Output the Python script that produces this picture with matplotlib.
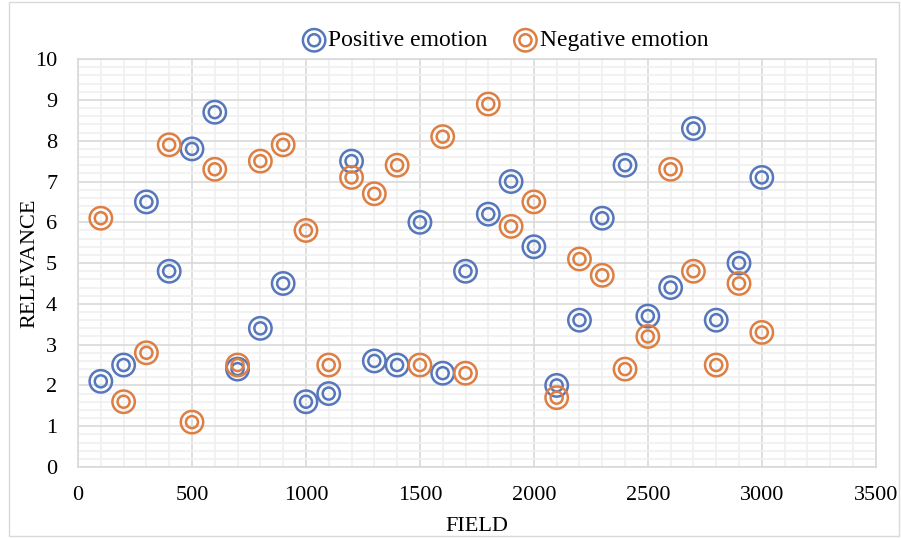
import numpy as np
import matplotlib.pyplot as plt
from matplotlib.ticker import MultipleLocator
from matplotlib.patches import Rectangle

plt.rcParams['font.family'] = ['Liberation Serif', 'DejaVu Serif']

field = [100, 200, 300, 400, 500, 600, 700, 800, 900, 1000,
         1100, 1200, 1300, 1400, 1500, 1600, 1700, 1800, 1900, 2000,
         2100, 2200, 2300, 2400, 2500, 2600, 2700, 2800, 2900, 3000]
positive = [2.1, 2.5, 6.5, 4.8, 7.8, 8.7, 2.4, 3.4, 4.5, 1.6,
            1.8, 7.5, 2.6, 2.5, 6.0, 2.3, 4.8, 6.2, 7.0, 5.4,
            2.0, 3.6, 6.1, 7.4, 3.7, 4.4, 8.3, 3.6, 5.0, 7.1]
negative = [6.1, 1.6, 2.8, 7.9, 1.1, 7.3, 2.5, 7.5, 7.9, 5.8,
            2.5, 7.1, 6.7, 7.4, 2.5, 8.1, 2.3, 8.9, 5.9, 6.5,
            1.7, 5.1, 4.7, 2.4, 3.2, 7.3, 4.8, 2.5, 4.5, 3.3]

blue = '#5677bb'
orange = '#dd7f43'

fig = plt.figure(figsize=(9.01, 5.38), dpi=100)
ax = fig.add_axes([0.0866, 0.132, 0.8854, 0.758])

# chart border
fig.patches.append(Rectangle((0.01, 0.004), 0.988, 0.992, transform=fig.transFigure,
                             fill=False, edgecolor='#d9d9d9', lw=1))

handles = []
for vals, col in [(positive, blue), (negative, orange)]:
    h1 = ax.scatter(field, vals, s=260, facecolors='none', edgecolors=col, linewidths=1.8, zorder=3)
    h2 = ax.scatter(field, vals, s=75, facecolors='none', edgecolors=col, linewidths=1.8, zorder=3)
    handles.append((h1, h2))

ax.set_xlim(0, 3500)
ax.set_ylim(0, 10)
ax.xaxis.set_major_locator(MultipleLocator(500))
ax.xaxis.set_minor_locator(MultipleLocator(100))
ax.yaxis.set_major_locator(MultipleLocator(1))
ax.yaxis.set_minor_locator(MultipleLocator(0.2))
ax.grid(which='major', color='#d9d9d9', lw=1.2, zorder=1)
ax.grid(which='minor', color='#f0f0f0', lw=1.2, zorder=0)
ax.set_axisbelow(True)
for s in ax.spines.values():
    s.set_color('#d9d9d9')
    s.set_linewidth(1.2)
ax.tick_params(which='both', length=0, labelsize=16)
ax.tick_params(axis='x', pad=14)
ax.tick_params(axis='y', pad=15)

ax.set_xlabel('FIELD', fontsize=16, labelpad=8)
ax.set_ylabel('RELEVANCE', fontsize=16, labelpad=-3)

ax.legend(handles, ['Positive emotion', 'Negative emotion'], ncol=2, frameon=False,
          loc='lower center', bbox_to_anchor=(0.534, 0.99), fontsize=17,
          handletextpad=0.0, columnspacing=1.0, handlelength=1.2,
          borderaxespad=0.1)

fig.savefig('out.png', dpi=100)
